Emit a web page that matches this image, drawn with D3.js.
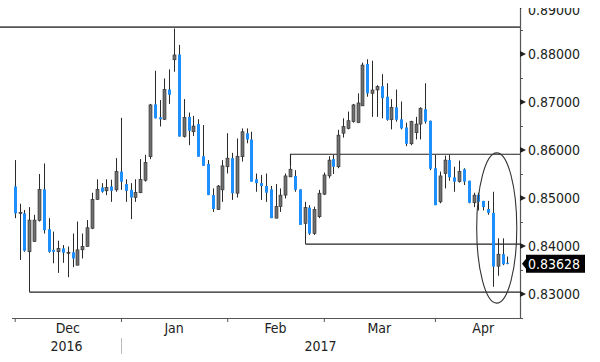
<!DOCTYPE html>
<html>
<head>
<meta charset="utf-8">
<script src="https://cdn.jsdelivr.net/npm/d3@7"></script>
<style>
  body { margin: 0; background: #fff; }
  svg { display: block; }
  text { font-family: "Liberation Sans Narrow", "DejaVu Sans Condensed", "Arial Narrow", sans-serif; font-size: 14px; fill: #222; }
</style>
</head>
<body>
<div id="chart"></div>
<script>
// Daily candles, one per weekday from 1 Dec 2016
const OPEN = [
  .8524, .8469, .8468, .8388, .8409, .8453, .8518, .8435, .8392, .8388, .8395, .8386, .8387, .8360, .8392, .8399, .8437, .8497, .8522, .8515, .8524,
  .8517, .8555, .8529, .8517, .8501, .8511, .8537, .8586, .8695, .8668, .8664, .8726, .8788, .8799, .8628, .8669, .8638, .8654, .8587, .8571,
  .8506, .8476, .8517, .8565, .8583, .8510, .8586, .8635, .8622, .8539, .8531, .8525, .8518, .8458, .8482, .8506, .8544, .8546, .8518, .8447,
  .8480, .8426, .8461, .8508, .8546, .8581, .8565, .8635, .8645, .8659, .8657, .8692, .8779, .8718, .8725, .8733, .8711, .8663, .8689, .8664,
  .8647, .8613, .8636, .8654, .8685, .8661, .8562, .8492, .8551, .8579, .8543, .8534, .8560, .8536, .8490, .8507, .8494, .8477, .8469, .8358,
  .8383, .8365
];
const HIGH = [
  .8579, .8488, .8475, .8481, .8465, .8550, .8572, .8458, .8430, .8411, .8402, .8399, .8426, .8451, .8426, .8454, .8511, .8539, .8531, .8539, .8538,
  .8583, .8667, .8539, .8531, .8539, .8581, .8590, .8696, .8765, .8704, .8749, .8768, .8853, .8819, .8706, .8678, .8671, .8664, .8652, .8579,
  .8520, .8527, .8579, .8635, .8594, .8624, .8645, .8645, .8638, .8551, .8548, .8551, .8525, .8529, .8520, .8551, .8565, .8558, .8518, .8492,
  .8485, .8482, .8517, .8553, .8587, .8590, .8642, .8666, .8680, .8696, .8718, .8782, .8789, .8786, .8735, .8758, .8739, .8706, .8726, .8701,
  .8657, .8661, .8669, .8689, .8739, .8661, .8590, .8555, .8588, .8590, .8565, .8578, .8562, .8536, .8511, .8511, .8494, .8494, .8513, .8416,
  .8416, .8378
];
const LOW = [
  .8458, .8371, .8388, .8304, .8409, .8451, .8426, .8386, .8364, .8344, .8365, .8335, .8356, .8360, .8374, .8399, .8435, .8496, .8511, .8506, .8492,
  .8513, .8517, .8492, .8456, .8492, .8510, .8534, .8581, .8666, .8649, .8663, .8696, .8763, .8628, .8626, .8610, .8629, .8586, .8567, .8506,
  .8471, .8475, .8492, .8551, .8496, .8501, .8576, .8614, .8534, .8513, .8496, .8492, .8458, .8458, .8471, .8499, .8544, .8513, .8444, .8404,
  .8423, .8423, .8458, .8506, .8541, .8550, .8562, .8626, .8643, .8657, .8656, .8692, .8711, .8669, .8669, .8666, .8661, .8643, .8659, .8643,
  .8608, .8610, .8622, .8622, .8655, .8558, .8485, .8489, .8520, .8536, .8513, .8532, .8527, .8489, .8481, .8474, .8474, .8465, .8315, .8338,
  .8360, .8362
];
const CLOSE = [
  .8468, .8470, .8390, .8454, .8454, .8518, .8433, .8388, .8388, .8395, .8386, .8387, .8374, .8392, .8399, .8438, .8497, .8518, .8513, .8522, .8515,
  .8555, .8534, .8515, .8501, .8512, .8539, .8574, .8694, .8666, .8664, .8726, .8715, .8798, .8628, .8668, .8640, .8650, .8586, .8567, .8506,
  .8477, .8525, .8567, .8583, .8510, .8587, .8638, .8622, .8534, .8531, .8525, .8511, .8458, .8482, .8506, .8546, .8560, .8517, .8444, .8480,
  .8426, .8476, .8510, .8548, .8579, .8565, .8631, .8649, .8661, .8694, .8698, .8777, .8718, .8725, .8732, .8708, .8663, .8689, .8663, .8645,
  .8613, .8659, .8654, .8687, .8659, .8561, .8485, .8546, .8579, .8543, .8534, .8555, .8534, .8490, .8506, .8492, .8481, .8469, .8357, .8383,
  .8362, .83628
];

const MONTH_LABELS = ["Dec", "Jan", "Feb", "Mar", "Apr"];
const YEAR_LABELS = ["2016", "2017"];
const Y_TICKS = [0.83, 0.84, 0.85, 0.86, 0.87, 0.88, 0.89];

// hand-drawn annotations: horizontal levels (anchored at a candle index) and an ellipse
const LEVEL_PRICES = [0.8856, 0.8591, 0.8404, 0.8304];
const LEVEL_ANCHORS = [null, 57, 60, 3];
const ELLIPSE_IDX = [95.65, 103.95];
const ELLIPSE_PRICE = [0.8281, 0.8594];

(() => {
  const W = 600, H = 362;
  const pL = 12, pR = 520, pT = 8, pB = 318;
  const step = 4.83, x0 = 14.7;
  const BLUE = "#1e8fff", GREY = "#707070", INK = "#2a2a2a";

  // weekday calendar, run a little past the data so April's label can be centred
  const days = d3.timeDay
    .range(new Date(2016, 11, 1), new Date(2017, 4, 2))
    .filter((d) => d.getDay() % 6 !== 0);

  const x = d3.scaleLinear().domain([0, 1]).range([x0, x0 + step]);
  const y = d3.scaleLinear().domain([0.825, 0.89]).range([pB, pB - 0.065 * 4800]);
  const fmt = d3.format(".5f");

  const svg = d3.select("#chart").append("svg").attr("width", W).attr("height", H);
  svg.append("defs").append("clipPath").attr("id", "frame")
    .append("rect").attr("x", 0).attr("y", pT).attr("width", W).attr("height", H - pT);

  const data = OPEN.map((o, i) => ({ i, o, h: HIGH[i], l: LOW[i], c: CLOSE[i] }));
  const cx = (i) => Math.round(x(i));

  // annotations behind the candles
  const ann = svg.append("g").attr("fill", "none");
  LEVEL_PRICES.forEach((p, k) => {
    const a = LEVEL_ANCHORS[k];
    const path = d3.path();
    if (a === null) {
      path.moveTo(0, y(p));
    } else {
      const from = p > HIGH[a] ? HIGH[a] : LOW[a];
      path.moveTo(cx(a) + 0.5, y(from));
      path.lineTo(cx(a) + 0.5, y(p));
    }
    path.lineTo(pR, y(p));
    ann.append("path").attr("d", path.toString())
      .attr("stroke", a === null ? "#555" : "#222")
      .attr("stroke-width", a === null ? 1.8 : 1.1);
  });

  // candles
  const g = svg.append("g");
  g.selectAll("line.wick").data(data).join("line").attr("class", "wick")
    .attr("x1", (d) => cx(d.i) + 0.5).attr("x2", (d) => cx(d.i) + 0.5)
    .attr("y1", (d) => y(d.h)).attr("y2", (d) => y(d.l))
    .attr("stroke", INK).attr("stroke-width", 1);
  g.selectAll("rect.body").data(data).join("rect").attr("class", "body")
    .attr("x", (d) => cx(d.i) - 1)
    .attr("width", 3)
    .attr("y", (d) => y(Math.max(d.o, d.c)))
    .attr("height", (d) => Math.max(1, Math.abs(y(d.o) - y(d.c))))
    .attr("fill", (d) => (d.c >= d.o ? GREY : BLUE))
    .attr("stroke", (d) => (d.c >= d.o ? INK : "none"))
    .attr("stroke-width", 0.6);

  // ellipse round the last days
  svg.append("ellipse")
    .attr("cx", (x(ELLIPSE_IDX[0]) + x(ELLIPSE_IDX[1])) / 2)
    .attr("cy", (y(ELLIPSE_PRICE[0]) + y(ELLIPSE_PRICE[1])) / 2)
    .attr("rx", (x(ELLIPSE_IDX[1]) - x(ELLIPSE_IDX[0])) / 2)
    .attr("ry", (y(ELLIPSE_PRICE[0]) - y(ELLIPSE_PRICE[1])) / 2)
    .attr("fill", "none").attr("stroke", "#333").attr("stroke-width", 1.1);

  // right price axis
  const ax = svg.append("g").attr("clip-path", "url(#frame)");
  ax.append("line").attr("x1", pR + 0.5).attr("x2", pR + 0.5).attr("y1", pT).attr("y2", pB)
    .attr("stroke", "#555").attr("stroke-width", 1.2);
  const minor = ax.append("g").attr("transform", `translate(${pR},0)`)
    .call(d3.axisRight(y).tickValues(y.ticks(13)).tickSize(3).tickFormat(""));
  minor.select(".domain").remove();
  minor.selectAll("line").attr("stroke", "#555");
  ax.selectAll("path.tri").data(Y_TICKS).join("path").attr("class", "tri")
    .attr("d", (v) => `M${pR},${y(v) - 3}L${pR + 6},${y(v)}L${pR},${y(v) + 3}Z`)
    .attr("fill", "#222");
  ax.selectAll("text.ylab").data(Y_TICKS).join("text").attr("class", "ylab")
    .attr("x", pR + 8)
    .attr("y", (v) => Math.max(y(v), pT + 2))
    .attr("dy", "0.36em")
    .text(fmt);

  // last price tag
  const last = CLOSE[CLOSE.length - 1];
  const tag = svg.append("g").attr("transform", `translate(${pR + 2},${y(last)})`);
  tag.append("path").attr("d", "M0,0L4,-5V-9H63V9H4V5Z").attr("fill", "#000");
  tag.append("text").attr("x", 6).attr("dy", "0.36em").style("fill", "#fff").text(fmt(last));

  // bottom time axis
  const starts = days.map((d, i) => i).filter((i) => i === 0 || days[i].getMonth() !== days[i - 1].getMonth());
  svg.append("line").attr("x1", pL).attr("x2", pR + 1).attr("y1", pB + 0.5).attr("y2", pB + 0.5)
    .attr("stroke", "#555").attr("stroke-width", 1.2);
  const xa = svg.append("g").attr("transform", `translate(0,${pB})`)
    .call(d3.axisBottom(x).tickValues(starts.slice(0, MONTH_LABELS.length)).tickSize(4).tickFormat(""));
  xa.select(".domain").remove();
  xa.selectAll("line").attr("stroke", "#555");

  svg.selectAll("text.mon").data(MONTH_LABELS).join("text").attr("class", "mon")
    .attr("x", (m, k) => (x(starts[k]) + x(starts[k + 1])) / 2)
    .attr("y", pB + 10)
    .attr("dy", "0.36em")
    .attr("text-anchor", "middle")
    .text((m) => m);

  const yearEdges = [pL, x(starts[1]), pR];
  svg.selectAll("text.yr").data(YEAR_LABELS).join("text").attr("class", "yr")
    .attr("x", (t, k) => (yearEdges[k] + yearEdges[k + 1]) / 2)
    .attr("y", pB + 28)
    .attr("dy", "0.36em")
    .attr("text-anchor", "middle")
    .text((t) => t);
  svg.append("line")
    .attr("x1", cx(starts[1]) + 0.5).attr("x2", cx(starts[1]) + 0.5)
    .attr("y1", pB + 20).attr("y2", pB + 36)
    .attr("stroke", "#bbb");
})();
</script>
</body>
</html>
